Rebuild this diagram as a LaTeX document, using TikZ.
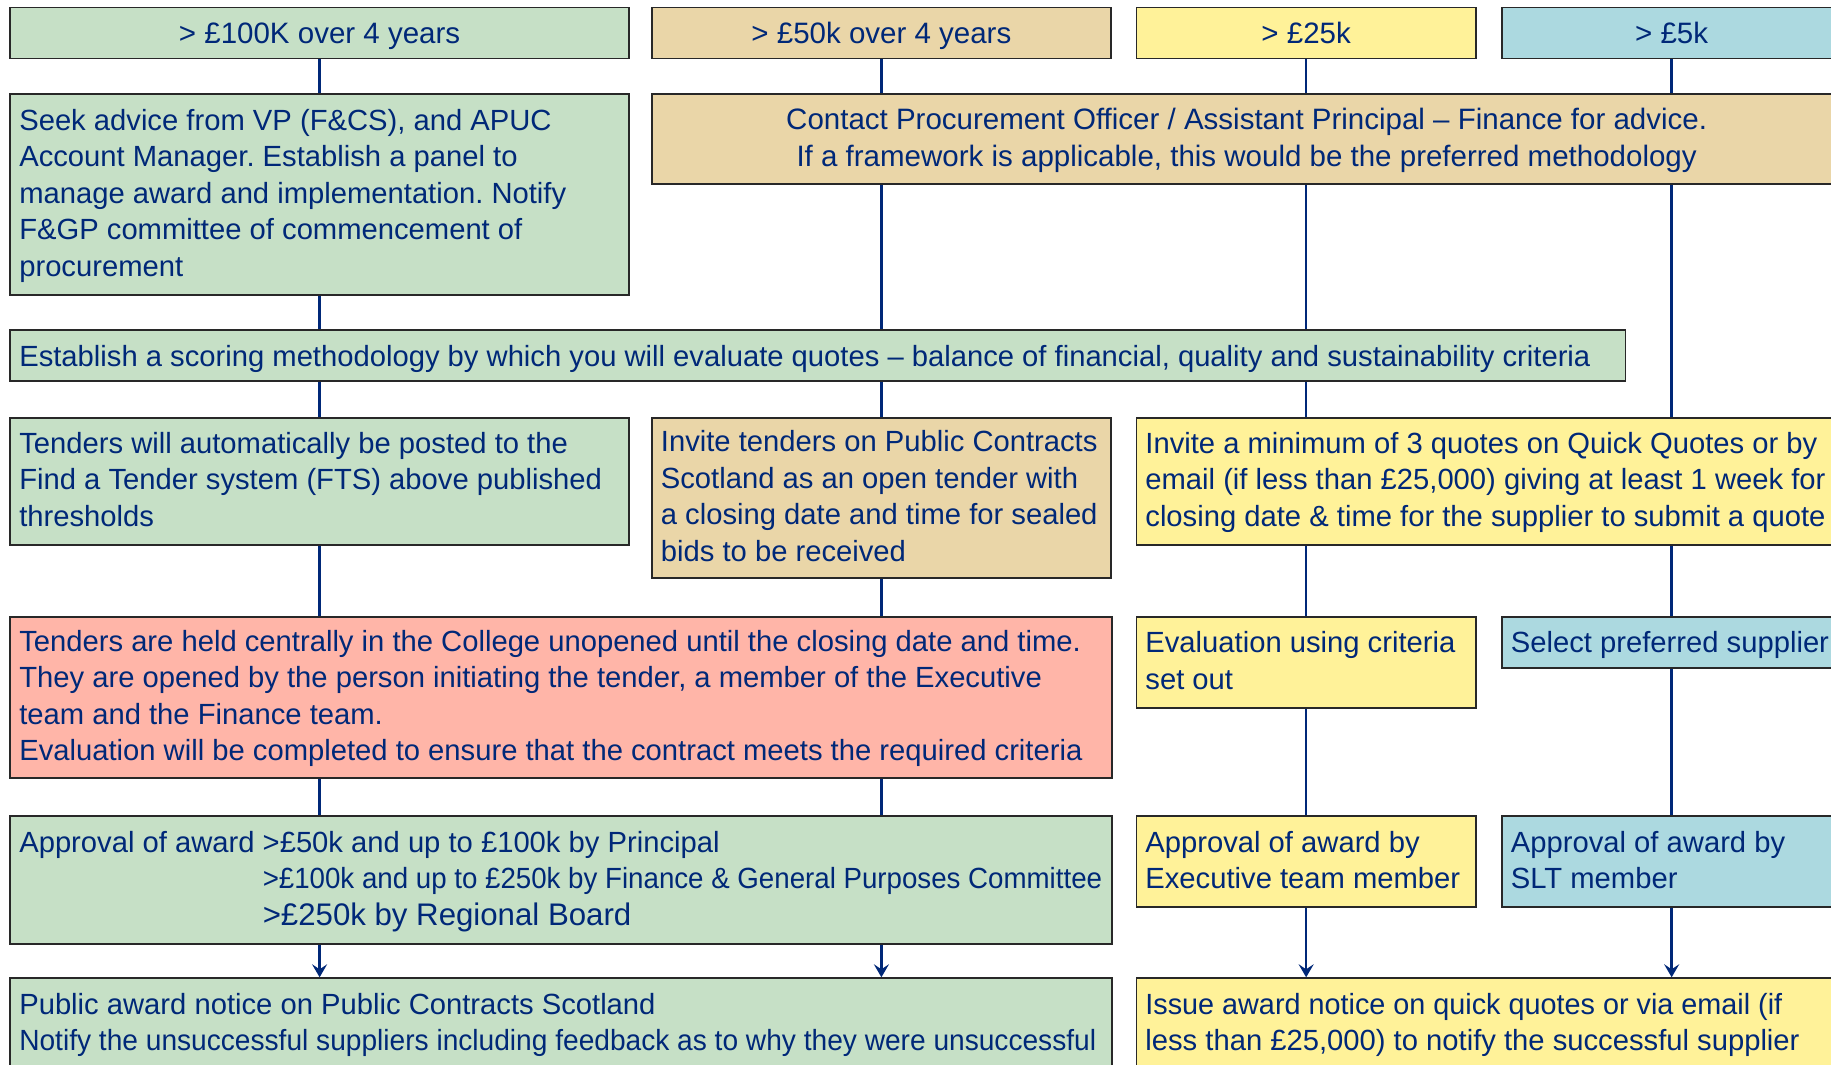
\documentclass[tikz,border=0pt]{standalone}
\usepackage{fontspec}
\usepackage{graphicx}
\setmainfont{Liberation Sans}
\usetikzlibrary{arrows.meta}
\definecolor{navy}{RGB}{0,40,120}
\definecolor{gfill}{RGB}{198,224,198}
\definecolor{tfill}{RGB}{234,214,168}
\definecolor{yfill}{RGB}{255,242,153}
\definecolor{bfill}{RGB}{172,217,224}
\definecolor{rfill}{RGB}{255,181,168}
\definecolor{boxline}{RGB}{40,40,40}
\newcommand\bxl[1]{\mbox{\spaceskip=0pt\xspaceskip=0pt\frenchspacing\relax#1}}
\def\bxdp{4pt}
\newcommand\bxdepth{\rule[-\bxdp]{0pt}{\bxdp}}
\tikzset{
  bxdp/.store in=\bxdp,
  bx/.style={draw=boxline, line width=0.9pt, text=navy, anchor=north west,
    inner xsep=4.5pt, inner ysep=0pt, font=\fontsize{14.6}{18.2}\selectfont,
    bxdp=4pt,
    execute at begin node={\spaceskip=0pt\xspaceskip=0pt\frenchspacing\strut},
    execute at end node={\bxdepth}},
  lbx/.style={bx, align=left},
  cbx/.style={bx, align=center, font=\fontsize{14.75}{18.2}\selectfont},
  oneline/.style={text height=10.7pt, text depth=0pt},
  conn/.style={draw=navy, line width=1.3pt},
  arr/.style={conn, -{Stealth[length=6.5pt,width=7.5pt,inset=2.5pt]}},
}
\begin{document}
\begin{tikzpicture}[x=0.5pt,y=-0.5pt]
\useasboundingbox (0,0) rectangle (1831,1065);
\fill[white] (0,0) rectangle (1831,1065);
\clip (0,0) rectangle (1831,1065);

% headers
\node[cbx, oneline, fill=gfill, minimum width=309.3pt, minimum height=25.5pt] (h1) at (9.4,6.7) {> £100K over 4 years};
\node[cbx, oneline, fill=tfill, minimum width=229.5pt, minimum height=25.5pt] (h2) at (651,6.7) {> £50k over 4 years};
\node[cbx, oneline, fill=yfill, minimum width=169.75pt, minimum height=25.5pt] (h3) at (1135.5,6.7) {> £25k};
\node[cbx, oneline, fill=bfill, minimum width=169.75pt, minimum height=25.5pt] (h4) at (1501,6.7) {> £5k};

% row 2
\node[lbx, fill=gfill, minimum width=309.3pt, text width=300.3pt, minimum height=100.35pt] (seek) at (9.4,93.3)
 {\bxl{Seek advice from VP (F\&CS), and APUC}\\\bxl{Account Manager. Establish a panel to}\\\bxl{manage award and implementation. Notify}\\\bxl{F\&GP committee of commencement of}\\\bxl{procurement}};
\node[cbx, fill=tfill, minimum width=594.75pt, text width=585.75pt, minimum height=45pt] (contact) at (651,93.3)
 {\bxl{Contact Procurement Officer / Assistant Principal – Finance for advice.}\\\bxl{If a framework is applicable, this would be the preferred methodology}};

% row 3
\node[lbx, oneline, fill=gfill, minimum width=807.55pt, text width=798.55pt, minimum height=25.5pt] (est) at (9.4,329)
 {\bxl{Establish a scoring methodology by which you will evaluate quotes – balance of financial, quality and sustainability criteria}};

% row 4
\node[lbx, fill=gfill, minimum width=309.3pt, text width=300.3pt, minimum height=63.65pt] (tauto) at (9.4,416.7)
 {\bxl{Tenders will automatically be posted to the}\\\bxl{Find a Tender system (FTS) above published}\\\bxl{thresholds}};
\node[lbx, fill=tfill, minimum width=229.5pt, text width=220.5pt, minimum height=80.15pt] (itend) at (651,416.7)
 {\bxl{Invite tenders on Public Contracts}\\\bxl{Scotland as an open tender with}\\\bxl{a closing date and time for sealed}\\\bxl{bids to be received}};
\node[lbx, fill=yfill, minimum width=352.5pt, text width=343.5pt, minimum height=63.65pt] (iq) at (1135.5,416.7)
 {\bxl{Invite a minimum of 3 quotes on Quick Quotes or by}\\\bxl{email (if less than £25,000) giving at least 1 week for}\\\bxl{closing date \& time for the supplier to submit a quote}};

% row 5
\node[lbx, fill=rfill, minimum width=550.8pt, text width=541.8pt, minimum height=80.35pt] (red) at (9.4,616)
 {\bxl{Tenders are held centrally in the College unopened until the closing date and time.}\\\bxl{They are opened by the person initiating the tender, a member of the Executive}\\\bxl{team and the Finance team.}\\\bxl{Evaluation will be completed to ensure that the contract meets the required criteria}};
\node[lbx, fill=yfill, minimum width=169.75pt, text width=160.75pt, minimum height=45.35pt] (eval) at (1135.5,616)
 {\bxl{Evaluation using criteria}\\\bxl{set out}};
\node[lbx, oneline, fill=bfill, minimum width=169.75pt, text width=160.75pt, minimum height=25.35pt] (sel) at (1501,616)
 {\bxl{Select preferred supplier}};

% row 6
\node[lbx, fill=gfill, minimum width=550.8pt, text width=541.8pt, minimum height=63.7pt] (appr) at (9.4,815.3)
 {\bxl{Approval of award >£50k and up to £100k by Principal}\\
  \bxl{\hphantom{Approval of award\ }\scalebox{0.948}[1]{>£100k and up to £250k by Finance \& General Purposes Committee}}\\
  \bxl{\hphantom{Approval of award\ }{\fontsize{15.6}{18.7}\selectfont >£250k by Regional Board}}};
\node[lbx, fill=yfill, minimum width=169.75pt, text width=160.75pt, minimum height=45.35pt] (exec) at (1135.5,815.3)
 {\bxl{Approval of award by}\\\bxl{Executive team member}};
\node[lbx, fill=bfill, minimum width=169.75pt, text width=160.75pt, minimum height=45.35pt] (slt) at (1501,815.3)
 {\bxl{Approval of award by}\\\bxl{SLT member}};

% row 7
\node[lbx, fill=gfill, minimum width=550.8pt, text width=541.8pt, minimum height=45.35pt] (pub) at (9.4,977.3)
 {\bxl{Public award notice on Public Contracts Scotland}\\\bxl{\scalebox{0.963}[1]{Notify the unsuccessful suppliers including feedback as to why they were unsuccessful}}};
\node[lbx, fill=yfill, minimum width=352.5pt, text width=343.5pt, minimum height=45.35pt] (issue) at (1135.5,977.3)
 {\bxl{\scalebox{0.986}[1]{Issue award notice on quick quotes or via email (if}}\\\bxl{less than £25,000) to notify the successful supplier}};

% column A
\draw[conn] (h1.south) -- (seek.north);
\draw[conn] (seek.south) -- (seek.south |- est.north);
\draw[conn] (tauto.north |- est.south) -- (tauto.north);
\draw[conn] (tauto.south) -- (tauto.south |- red.north);
\draw[conn] (tauto.south |- red.south) -- (tauto.south |- appr.north);
\draw[arr] (tauto.south |- appr.south) -- (tauto.south |- pub.north);
% column B
\draw[conn] (h2.south) -- (h2.south |- contact.north);
\draw[conn] (h2.south |- contact.south) -- (h2.south |- est.north);
\draw[conn] (itend.north |- est.south) -- (itend.north);
\draw[conn] (itend.south) -- (itend.south |- red.north);
\draw[conn] (itend.south |- red.south) -- (itend.south |- appr.north);
\draw[arr] (itend.south |- appr.south) -- (itend.south |- pub.north);
% column C
\draw[conn] (h3.south) -- (h3.south |- contact.north);
\draw[conn] (h3.south |- contact.south) -- (h3.south |- est.north);
\draw[conn] (h3.south |- est.south) -- (h3.south |- iq.north);
\draw[conn] (eval.north |- iq.south) -- (eval.north);
\draw[conn] (eval.south) -- (exec.north);
\draw[arr] (exec.south) -- (exec.south |- issue.north);
% column D
\draw[conn] (h4.south) -- (h4.south |- contact.north);
\draw[conn] (h4.south |- contact.south) -- (h4.south |- iq.north);
\draw[conn] (sel.north |- iq.south) -- (sel.north);
\draw[conn] (sel.south) -- (slt.north);
\draw[arr] (slt.south) -- (slt.south |- issue.north);
\end{tikzpicture}
\end{document}
